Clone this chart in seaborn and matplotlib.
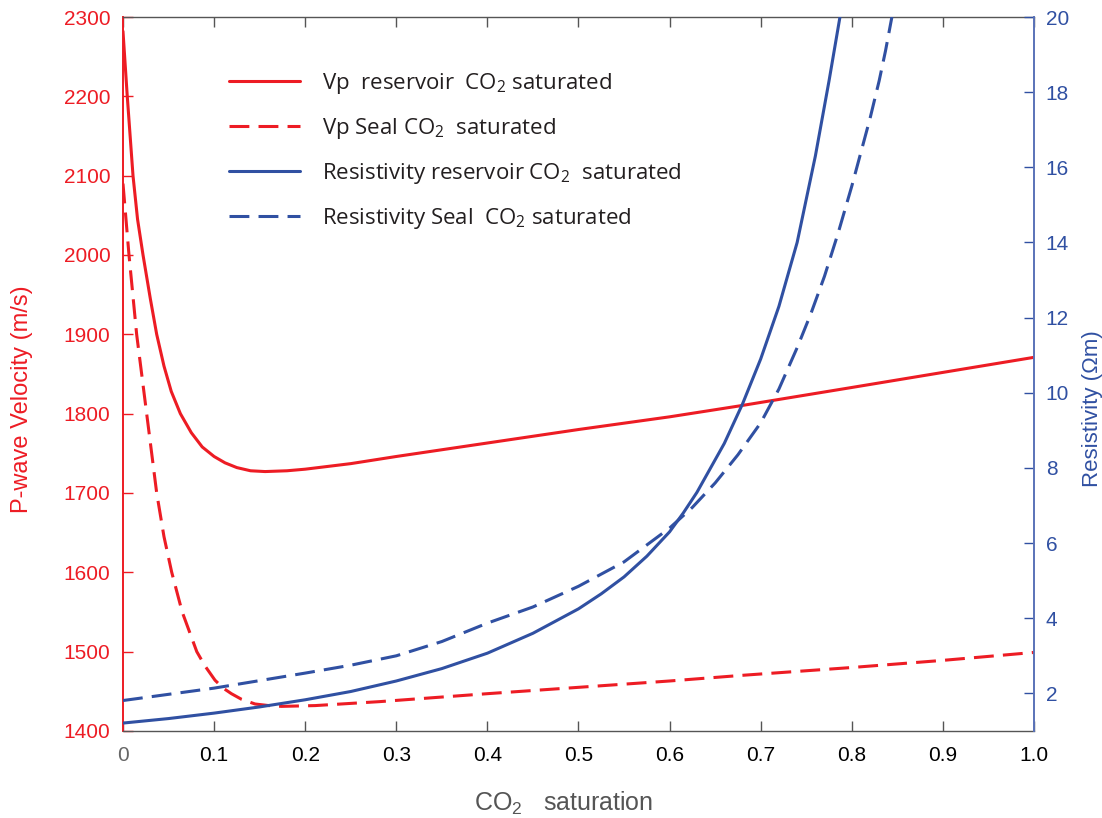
import numpy as np
import matplotlib
matplotlib.use('Agg')
import matplotlib.pyplot as plt
import seaborn as sns

sns.set_style('ticks')
plt.rcParams['font.family'] = ['Liberation Sans', 'DejaVu Sans']

# ---- data (CO2 saturation vs Vp / resistivity) ----
sat_vp_res = [0, 0.0047, 0.011, 0.016, 0.022, 0.03, 0.037, 0.045, 0.053, 0.063, 0.075,
              0.087, 0.1, 0.112, 0.125, 0.14, 0.156, 0.18, 0.2, 0.25, 0.3, 0.4, 0.5,
              0.6, 0.678, 0.8, 0.9, 1.0]
vp_res = [2282, 2200, 2100, 2045, 2000, 1945, 1900, 1860, 1828, 1800, 1776,
          1758, 1746, 1738, 1732, 1728, 1727, 1728, 1730, 1737, 1746, 1763, 1780,
          1796, 1810, 1833, 1852, 1871]

sat_vp_seal = [0, 0.0066, 0.015, 0.026, 0.037, 0.045, 0.0535, 0.065, 0.081, 0.09, 0.101,
               0.11, 0.119, 0.13, 0.145, 0.16, 0.174, 0.211, 0.282, 0.4, 0.5, 0.6,
               0.678, 0.8, 0.9, 1.0]
vp_seal = [2090, 2000, 1900, 1800, 1700, 1645, 1600, 1550, 1500, 1482, 1464,
           1454, 1447, 1440, 1434, 1432, 1431, 1432, 1437, 1447, 1455, 1463,
           1470, 1480, 1489, 1499]

sat_rho_res = [0, 0.05, 0.1, 0.15, 0.2, 0.25, 0.3, 0.35, 0.4, 0.45, 0.5, 0.525, 0.55,
               0.575, 0.6, 0.615, 0.63, 0.645, 0.66, 0.68, 0.7, 0.72, 0.74, 0.76,
               0.775, 0.787]
rho_res = [1.21, 1.33, 1.475, 1.64, 1.83, 2.05, 2.33, 2.66, 3.07, 3.6, 4.25, 4.65, 5.1,
           5.65, 6.3, 6.8, 7.35, 8.0, 8.65, 9.7, 10.9, 12.3, 14.0, 16.3,
           18.3, 20.0]

sat_rho_seal = [0, 0.1, 0.2, 0.25, 0.3, 0.35, 0.4, 0.45, 0.5, 0.55, 0.6, 0.625, 0.65,
                0.675, 0.7, 0.72, 0.74, 0.755, 0.77, 0.785, 0.8, 0.81, 0.82, 0.83,
                0.837, 0.844]
rho_seal = [1.81, 2.14, 2.54, 2.75, 3.0, 3.38, 3.87, 4.3, 4.85, 5.5, 6.4, 6.95, 7.6,
            8.35, 9.2, 10.1, 11.2, 12.1, 13.1, 14.25, 15.5, 16.4, 17.3, 18.3,
            19.1, 20.0]

labels = ['Vp  reservoir  CO$_\\mathregular{2}$ saturated',
          'Vp Seal CO$_\\mathregular{2}$  saturated',
          'Resistivity reservoir CO$_\\mathregular{2}$  saturated',
          'Resistivity Seal  CO$_\\mathregular{2}$ saturated']

xticks = np.round(np.arange(0, 1.01, 0.1), 1)
xtick_labels = ['0', '0.1', '0.2', '0.3', '0.4', '0.5', '0.6', '0.7', '0.8', '0.9', '1.0']

RED = '#ED1C24'
BLUE = '#3050A2'
GRAY = '#555555'

fig = plt.figure(figsize=(11.02, 8.18), dpi=100)
ax = fig.add_axes([0.1116, 0.1064, 0.8267, 0.8728])
ax2 = ax.twinx()

sns.lineplot(x=sat_vp_res, y=vp_res, ax=ax, color=RED, lw=2.2, sort=False)
sns.lineplot(x=sat_vp_seal, y=vp_seal, ax=ax, color=RED, lw=2.2, sort=False)
sns.lineplot(x=sat_rho_res, y=rho_res, ax=ax2, color=BLUE, lw=2.2, sort=False)
sns.lineplot(x=sat_rho_seal, y=rho_seal, ax=ax2, color=BLUE, lw=2.2, sort=False)

l_vr, l_vs = ax.lines[0], ax.lines[1]
l_rr, l_rs = ax2.lines[0], ax2.lines[1]
for ln in [l_vr, l_vs, l_rr, l_rs]:
    ln.set_solid_joinstyle('round')
    ln.set_dash_joinstyle('round')
l_vs.set_dashes([6.5, 3])
l_rs.set_dashes([6.5, 3])

# axes ranges / ticks
ax.set_xlim(0, 1.0)
ax.set_ylim(1400, 2300)
ax.set_yticks(np.arange(1400, 2301, 100))
ax.set_xticks(xticks)
ax.set_xticklabels(xtick_labels)
ax2.set_ylim(1, 20)
ax2.set_yticks(np.arange(2, 21, 2))

ax.tick_params(axis='x', direction='in', top=True, length=7, width=1, colors=GRAY,
               labelcolor='black', labelsize=15, pad=11)
ax.tick_params(axis='y', direction='in', length=7, width=1, colors=RED,
               labelcolor=RED, labelsize=15, pad=9)
ax2.tick_params(axis='y', direction='in', length=7, width=1, colors=BLUE,
                labelcolor=BLUE, labelsize=15, pad=8.5)
ax.get_xticklabels()[0].set_color('#666666')

for s in ['top', 'bottom']:
    ax.spines[s].set_color(GRAY)
    ax.spines[s].set_linewidth(1)
ax.spines['left'].set_color(RED)
ax.spines['left'].set_linewidth(1.4)
ax.spines['right'].set_visible(False)
for s in ['top', 'bottom', 'left']:
    ax2.spines[s].set_visible(False)
ax2.spines['right'].set_color('#5a72b8')
ax2.spines['right'].set_linewidth(1.4)

ax.set_xlabel('CO$_\\mathregular{2}$   saturation', fontsize=18, color=GRAY)
ax.xaxis.set_label_coords(0.484, -0.0826)
ax.set_ylabel('P-wave Velocity (m/s)', fontsize=17, color=RED)
ax.yaxis.set_label_coords(-0.0988, 0.465)
ax2.set_ylabel('Resistivity (\u03a9m)', fontsize=16, color=BLUE)
ax2.yaxis.set_label_coords(1.0527, 0.451)

leg = fig.legend([l_vr, l_vs, l_rr, l_rs], labels, loc='upper left',
                 bbox_to_anchor=(229 / 1102, 1 - 71 / 818), frameon=False,
                 prop={'family': ['Open Sans', 'DejaVu Sans'], 'size': 16},
                 handlelength=3.2, handletextpad=1.0, labelspacing=0.9,
                 borderpad=0, borderaxespad=0)
for t in leg.get_texts():
    t.set_color('#231F20')

fig.savefig('out.png', dpi=100)
